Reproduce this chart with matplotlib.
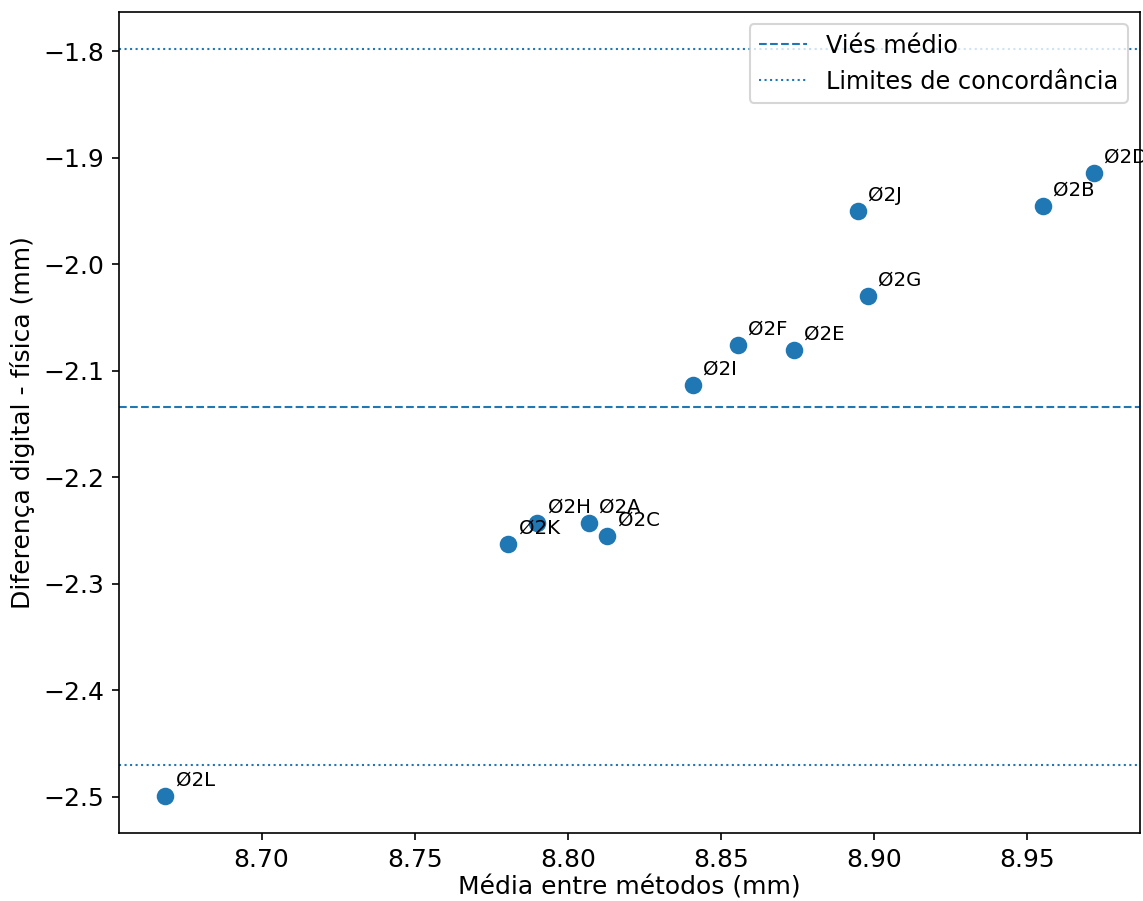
import numpy as np
import matplotlib
matplotlib.use("Agg")
import matplotlib.pyplot as plt

# amostras e valores
labels = ["Ø2A", "Ø2B", "Ø2C", "Ø2D", "Ø2E", "Ø2F",
          "Ø2G", "Ø2H", "Ø2I", "Ø2J", "Ø2K", "Ø2L"]
media = [8.8069, 8.9550, 8.8128, 8.9716, 8.8738, 8.8555,
         8.8979, 8.7900, 8.8408, 8.8947, 8.7805, 8.6686]
diferenca = [-2.243, -1.945, -2.255, -1.914, -2.080, -2.076,
             -2.030, -2.243, -2.113, -1.950, -2.263, -2.499]

media = np.array(media)
diferenca = np.array(diferenca)

# viés e limites de concordância (1.96 * desvio padrão)
vies = np.mean(diferenca)
sd = np.std(diferenca, ddof=1)
lim_sup = vies + 1.96 * sd
lim_inf = vies - 1.96 * sd

fig = plt.figure(figsize=(1143 / 150, 901 / 150), dpi=150)
ax = fig.add_axes([119 / 1143, (901 - 833) / 901, (1140 - 119) / 1143, (833 - 12) / 901])

ax.scatter(media, diferenca, s=55, color="C0")
for i in range(len(labels)):
    ax.annotate(labels[i], (media[i], diferenca[i]), xytext=(5, 5),
                textcoords="offset points", fontsize=9.5)

ax.axhline(vies, color="#1f77b4", linestyle="--", linewidth=1, label="Viés médio")
ax.axhline(lim_sup, color="#1f77b4", linestyle=":", linewidth=1, label="Limites de concordância")
ax.axhline(lim_inf, color="#1f77b4", linestyle=":", linewidth=1)

ax.set_xlabel("Média entre métodos (mm)", fontsize=12, labelpad=2)
ax.set_ylabel("Diferença digital - física (mm)", fontsize=12)
ax.tick_params(labelsize=12)
ax.legend(loc="upper right", fontsize=11.5)

fig.savefig("out.png", dpi=150)
